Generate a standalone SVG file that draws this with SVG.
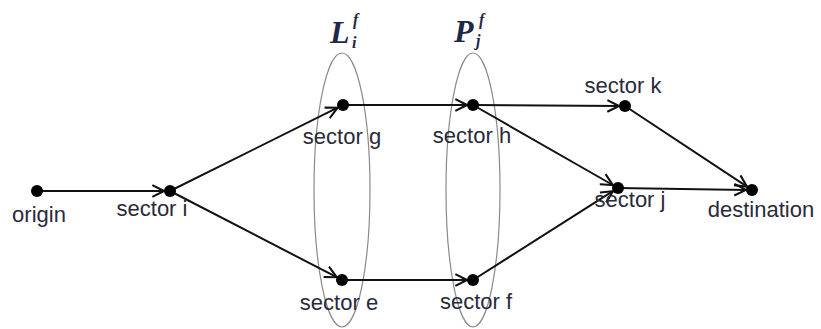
<svg xmlns="http://www.w3.org/2000/svg" width="821" height="329" viewBox="0 0 821 329">
<style>
.lbl{font-family:"Liberation Sans",Arial,sans-serif;font-size:22px;fill:#2a2a3a;text-anchor:middle}
.math{font-family:"Liberation Serif","Times New Roman",serif;font-style:italic;font-weight:bold;fill:#1f2848}
.edge{stroke:#111;stroke-width:2;fill:none;marker-end:url(#arr)}
.dot{fill:#000}
.set{fill:none;stroke:#8a8a8a;stroke-width:1.2}
</style>
<defs>
<marker id="arr" markerUnits="userSpaceOnUse" markerWidth="14" markerHeight="14" viewBox="0 0 12 12" refX="11" refY="6" orient="auto">
<path d="M1,1 L11,6 L1,11" fill="none" stroke="#111" stroke-width="1.8"/>
</marker>
</defs>
<g id="sets">
<g id="set-L"><ellipse class="set" cx="342" cy="190" rx="28" ry="137"/><text class="math" x="330" y="43" font-size="32">L</text><text class="math" x="352" y="48" font-size="16">i</text><text class="math" x="353" y="25" font-size="16">f</text></g>
<g id="set-P"><ellipse class="set" cx="473" cy="190" rx="27" ry="137"/><text class="math" x="454" y="42" font-size="32">P</text><text class="math" x="476" y="46" font-size="16">j</text><text class="math" x="479" y="25" font-size="16">f</text></g>
</g>
<g id="connectors">
<line class="edge" x1="37" y1="191" x2="164" y2="191"/>
<line class="edge" x1="170" y1="191" x2="337.6" y2="107.7"/>
<line class="edge" x1="170" y1="191" x2="336.7" y2="277.2"/>
<line class="edge" x1="343" y1="105" x2="467" y2="105"/>
<line class="edge" x1="342" y1="280" x2="467" y2="280"/>
<line class="edge" x1="473" y1="105" x2="619" y2="106"/>
<line class="edge" x1="473" y1="105" x2="612.8" y2="185"/>
<line class="edge" x1="473" y1="280" x2="612.9" y2="191.2"/>
<line class="edge" x1="625" y1="106" x2="747" y2="186.7"/>
<line class="edge" x1="618" y1="188" x2="746" y2="189.9"/>
</g>
<g id="origin"><circle class="dot" cx="37" cy="191" r="6"/><text class="lbl" x="39" y="222">origin</text></g>
<g id="sector-i"><circle class="dot" cx="170" cy="191" r="6"/><text class="lbl" x="152" y="216">sector i</text></g>
<g id="sector-g"><circle class="dot" cx="343" cy="105" r="6"/><text class="lbl" x="342" y="144">sector g</text></g>
<g id="sector-h"><circle class="dot" cx="473" cy="105" r="6"/><text class="lbl" x="472" y="143">sector h</text></g>
<g id="sector-k"><circle class="dot" cx="625" cy="106" r="6"/><text class="lbl" x="623" y="93">sector k</text></g>
<g id="sector-j"><circle class="dot" cx="618" cy="188" r="6"/><text class="lbl" x="630" y="207">sector j</text></g>
<g id="destination"><circle class="dot" cx="752" cy="190" r="6"/><text class="lbl" x="761" y="217">destination</text></g>
<g id="sector-e"><circle class="dot" cx="342" cy="280" r="6"/><text class="lbl" x="339" y="310">sector e</text></g>
<g id="sector-f"><circle class="dot" cx="473" cy="280" r="6"/><text class="lbl" x="476" y="309">sector f</text></g>
</svg>
